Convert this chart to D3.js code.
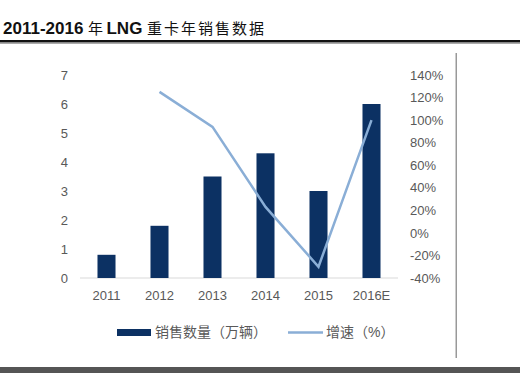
<!DOCTYPE html>
<html>
<head>
<meta charset="utf-8">
<script src="https://cdn.jsdelivr.net/npm/d3@7"></script>
<style>
  body { margin: 0; background: #fff; }
  svg { display: block; }
</style>
</head>
<body>
<svg width="520" height="373"></svg>
<script>
var years = ['2011', '2012', '2013', '2014', '2015', '2016E'];
var sales = [0.8, 1.8, 3.5, 4.3, 3.0, 6.0];
var growth = [null, 125, 94, 23, -30, 100];
var leftTicks = [0, 1, 2, 3, 4, 5, 6, 7];
var rightTicks = [-40, -20, 0, 20, 40, 60, 80, 100, 120, 140];

var svg = d3.select('svg');
var font = '"Liberation Sans", Arial, sans-serif';
var cjk = '"Liberation Sans", "Noto Sans CJK SC", sans-serif';

// title
var title = svg.append('text').attr('x', 3).attr('y', 34).attr('fill', '#111');
title.append('tspan').text('2011-2016 ').attr('font-family', font).attr('font-weight', 'bold').attr('font-size', 17);
title.append('tspan').text('年 ').attr('font-family', '"Noto Sans CJK SC"').attr('font-size', 15);
title.append('tspan').text('LNG ').attr('font-family', font).attr('font-weight', 'bold').attr('font-size', 17);
title.append('tspan').text('重卡年销售数据').attr('font-family', '"Noto Sans CJK SC"').attr('font-size', 15).attr('letter-spacing', 2);

svg.append('rect').attr('x', 0).attr('y', 40).attr('width', 520).attr('height', 2.5).attr('fill', '#111');
svg.append('rect').attr('x', 0).attr('y', 43).attr('width', 520).attr('height', 1).attr('fill', '#aaa');
svg.append('rect').attr('x', 0).attr('y', 367).attr('width', 520).attr('height', 6).attr('fill', '#555');
svg.append('rect').attr('x', 455.5).attr('y', 53).attr('width', 1.5).attr('height', 305).attr('fill', '#999');

// scales
var x = d3.scaleBand().domain(years).range([80, 398]).paddingInner(0.66).paddingOuter(0.33);
var yL = d3.scaleLinear().domain([0, 7]).range([278, 75]);
var yR = d3.scaleLinear().domain([-40, 140]).range([278, 75]);

// baseline
svg.append('line').attr('x1', 80).attr('x2', 398).attr('y1', yL(0)).attr('y2', yL(0))
  .attr('stroke', '#d9d9d9').attr('stroke-width', 1);

// bars
svg.selectAll('rect.bar').data(sales).enter().append('rect')
  .attr('class', 'bar')
  .attr('x', function(d, i) { return x(years[i]); })
  .attr('width', x.bandwidth())
  .attr('y', function(d) { return yL(d); })
  .attr('height', function(d) { return yL(0) - yL(d); })
  .attr('fill', '#0c3163');

// line
var line = d3.line()
  .defined(function(d) { return d != null; })
  .x(function(d, i) { return x(years[i]) + x.bandwidth() / 2; })
  .y(function(d) { return yR(d); });
svg.append('path').datum(growth).attr('d', line)
  .attr('fill', 'none').attr('stroke', '#8aaed6').attr('stroke-width', 2.5);

// axes
var axL = svg.append('g').attr('transform', 'translate(68,0)')
  .call(d3.axisLeft(yL).tickValues(leftTicks).tickSize(0).tickPadding(0).tickFormat(d3.format('d')));
var axR = svg.append('g').attr('transform', 'translate(410,0)')
  .call(d3.axisRight(yR).tickValues(rightTicks).tickSize(0).tickPadding(0)
    .tickFormat(function(d) { return d + '%'; }));
var axX = svg.append('g').attr('transform', 'translate(0,' + yL(0) + ')')
  .call(d3.axisBottom(x).tickSize(0).tickPadding(13));
[axL, axR, axX].forEach(function(a) {
  a.select('.domain').remove();
  a.selectAll('text').attr('font-family', font).attr('font-size', 13).attr('fill', '#595959');
});

// legend
var lg = svg.append('g').attr('font-family', cjk).attr('font-size', 14).attr('fill', '#595959');
lg.append('rect').attr('x', 117).attr('y', 329).attr('width', 34).attr('height', 7).attr('fill', '#0c3163');
lg.append('text').attr('x', 155).attr('y', 337).text('销售数量（万辆）');
lg.append('line').attr('x1', 288).attr('x2', 323).attr('y1', 332.5).attr('y2', 332.5)
  .attr('stroke', '#8aaed6').attr('stroke-width', 2.5);
lg.append('text').attr('x', 326).attr('y', 337).text('增速（%）');
</script>
</body>
</html>
